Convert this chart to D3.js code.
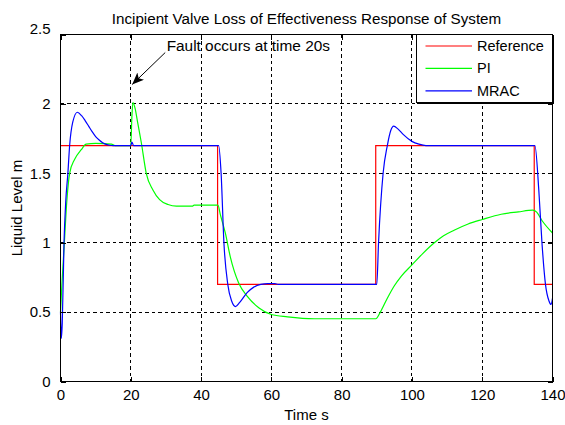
<!DOCTYPE html>
<html>
<head>
<meta charset="utf-8">
<script src="https://cdn.jsdelivr.net/npm/d3@7"></script>
<style>
  body { margin: 0; background: #fff; }
  text { font-family: "Liberation Sans", Arial, sans-serif; fill: #000; }
</style>
</head>
<body>
<svg width="565" height="425"></svg>
<script>
const xTicks = [0, 20, 40, 60, 80, 100, 120, 140]
const yTicks = [0, 0.5, 1, 1.5, 2, 2.5]
const seriesNames = ['Reference', 'PI', 'MRAC']
const seriesColors = ['#ff0000', '#00ff00', '#0000ff']

// reference set point (step signal)
const refTime = [0, 44.7, 44.7, 89.7, 89.7, 134.8, 134.8, 140]
const refLevel = [1.7, 1.7, 0.7, 0.7, 1.7, 1.7, 0.7, 0.7]

// PI controller response
const piTime = [0, 0.4, 1.1, 1.8, 2.6, 4.0, 5.9, 7.3, 10, 14.5, 15.5, 20, 20.3, 20.6, 21.2, 22, 23, 24.4, 26.3, 28.2, 30.6, 33, 37.5, 38, 44.8, 45.5, 46.9, 48.3, 50.7, 53.1, 56.5, 60, 64.6, 72.2, 89.7, 91, 93, 95, 97, 100, 103, 106.2, 109, 112, 116, 120, 125.4, 130.3, 134.4, 135.5, 137, 140]
const piLevel = [0.5, 0.7, 1.0, 1.3, 1.5, 1.6, 1.67, 1.71, 1.715, 1.71, 1.7, 1.7, 1.9, 2.01, 1.97, 1.86, 1.72, 1.5, 1.38, 1.31, 1.275, 1.263, 1.263, 1.27, 1.27, 1.2, 1.07, 0.9, 0.71, 0.615, 0.53, 0.483, 0.466, 0.452, 0.452, 0.5, 0.6, 0.69, 0.76, 0.84, 0.92, 0.996, 1.05, 1.09, 1.135, 1.167, 1.205, 1.222, 1.234, 1.22, 1.16, 1.07]

// MRAC response
const mracTime = [0, 0.25, 0.5, 1.0, 1.5, 2.1, 2.6, 3.5, 4.8, 6, 7, 8, 9, 10, 11, 12, 13, 14, 15, 20, 20.3, 20.8, 45, 45.7, 46.5, 47.6, 48.7, 49.8, 51, 53.1, 55, 57, 59, 61, 62, 90, 90.5, 91.8, 93, 94, 94.8, 96, 97.5, 100, 102, 104, 135, 136.1, 137, 138, 139, 139.6, 140]
const mracLevel = [0.5, 0.31, 0.42, 1.0, 1.3, 1.5, 1.7, 1.87, 1.94, 1.915, 1.88, 1.84, 1.8, 1.765, 1.74, 1.72, 1.708, 1.702, 1.7, 1.7, 1.725, 1.7, 1.7, 1.5, 1.0, 0.7, 0.58, 0.54, 0.57, 0.64, 0.68, 0.7, 0.705, 0.705, 0.7, 0.7, 1.0, 1.5, 1.7, 1.81, 1.84, 1.82, 1.78, 1.73, 1.71, 1.7, 1.7, 1.38, 1.0, 0.7, 0.58, 0.555, 0.6]

const series = [
  { name: seriesNames[0], color: seriesColors[0], pts: refTime.map((t, i) => [t, refLevel[i]]), curve: d3.curveLinear },
  { name: seriesNames[1], color: seriesColors[1], pts: piTime.map((t, i) => [t, piLevel[i]]), curve: d3.curveMonotoneX },
  { name: seriesNames[2], color: seriesColors[2], pts: mracTime.map((t, i) => [t, mracLevel[i]]), curve: d3.curveMonotoneX }
]

const pLeft = 60.5, pRight = 552.5, pTop = 34.5, pBottom = 381.5

const x = d3.scaleLinear().domain([0, 140]).range([pLeft, pRight])
const y = d3.scaleLinear().domain([0, 2.5]).range([pBottom, pTop])

const svg = d3.select('svg')

// grid
const grid = svg.append('g').attr('shape-rendering', 'crispEdges')
grid.selectAll('.gx')
    .data(xTicks.slice(1, -1))
    .enter().append('line')
    .attr('x1', d => x(d)).attr('x2', d => x(d))
    .attr('y1', pTop).attr('y2', pBottom)
    .attr('stroke', '#000').attr('stroke-dasharray', '3.5,3')
grid.selectAll('.gy')
    .data(yTicks.slice(1, -1))
    .enter().append('line')
    .attr('y1', d => y(d)).attr('y2', d => y(d))
    .attr('x1', pLeft).attr('x2', pRight)
    .attr('stroke', '#000').attr('stroke-dasharray', '3.5,3')

// series
const plot = svg.append('g')
series.forEach(s => {
  plot.append('path')
      .datum(s.pts)
      .attr('fill', 'none')
      .attr('stroke', s.color)
      .attr('stroke-width', 1.2)
      .attr('d', d3.line().x(d => x(d[0])).y(d => y(d[1])).curve(s.curve))
})

// axes (inward ticks on all sides)
const axisFont = '15px'
const xAxisG = svg.append('g')
    .attr('transform', `translate(0,${pBottom})`)
    .call(d3.axisBottom(x).tickValues(xTicks).tickSizeInner(-5).tickSizeOuter(0).tickPadding(8))
const yAxisG = svg.append('g')
    .attr('transform', `translate(${pLeft},0)`)
    .call(d3.axisLeft(y).tickValues(yTicks).tickSizeInner(-5).tickSizeOuter(0).tickPadding(10).tickFormat(d3.format('')))
svg.append('g')
    .attr('transform', `translate(0,${pTop})`)
    .call(d3.axisTop(x).tickValues(xTicks).tickSizeInner(-5).tickSizeOuter(0).tickFormat(''))
svg.append('g')
    .attr('transform', `translate(${pRight},0)`)
    .call(d3.axisRight(y).tickValues(yTicks).tickSizeInner(-5).tickSizeOuter(0).tickFormat(''))

svg.selectAll('.domain').remove()
svg.selectAll('.tick line').attr('stroke', '#000').attr('shape-rendering', 'crispEdges')
svg.selectAll('.tick text')
    .style('font-family', '"Liberation Sans", Arial, sans-serif')
    .style('font-size', axisFont)
    .attr('fill', '#000')
// top label sits a little above its tick in the original
yAxisG.selectAll('.tick text').filter(d => d === 2.5).attr('dy', '-0.05em')

svg.append('rect')
    .attr('x', pLeft).attr('y', pTop)
    .attr('width', pRight - pLeft).attr('height', pBottom - pTop)
    .attr('fill', 'none').attr('stroke', '#000')
    .attr('shape-rendering', 'crispEdges')

// titles
svg.append('text')
    .attr('x', (pLeft + pRight) / 2).attr('y', 24)
    .attr('text-anchor', 'middle')
    .style('font-size', '15.2px')
    .text('Incipient Valve Loss of Effectiveness Response of System')
svg.append('text')
    .attr('x', (pLeft + pRight) / 2).attr('y', 420)
    .attr('text-anchor', 'middle')
    .style('font-size', '15px')
    .text('Time s')
svg.append('text')
    .attr('transform', `translate(22,${(pTop + pBottom) / 2}) rotate(-90)`)
    .attr('text-anchor', 'middle')
    .style('font-size', '15px')
    .text('Liquid Level m')

// annotation
svg.append('defs').append('marker')
    .attr('id', 'head')
    .attr('viewBox', '0 0 12 10')
    .attr('refX', 12).attr('refY', 5)
    .attr('markerWidth', 12).attr('markerHeight', 10)
    .attr('markerUnits', 'userSpaceOnUse')
    .attr('orient', 'auto')
    .append('path').attr('d', 'M0,0 L12,5 L0,10 L3,5 Z').attr('fill', '#000')
svg.append('line')
    .attr('x1', x(29.8)).attr('y1', y(2.37))
    .attr('x2', x(20.4)).attr('y2', y(2.14))
    .attr('stroke', '#000').attr('stroke-width', 1)
    .attr('marker-end', 'url(#head)')
svg.append('text')
    .attr('x', x(30.2)).attr('y', 51)
    .style('font-size', '15.4px')
    .text('Fault occurs at time 20s')

// legend
const lg = svg.append('g')
lg.append('rect')
    .attr('x', 416.5).attr('y', pTop)
    .attr('width', pRight - 416.5).attr('height', 68)
    .attr('fill', '#fff').attr('stroke', '#000')
    .attr('shape-rendering', 'crispEdges')
lg.append('path')
    .attr('d', `M417,${pTop + 69}H${pRight + 1}V${pTop}`)
    .attr('fill', 'none').attr('stroke', '#000').attr('stroke-width', 1.5)
    .attr('shape-rendering', 'crispEdges')
series.forEach((s, i) => {
  const ly = 46 + i * 22.4
  lg.append('line')
      .attr('x1', 425.5).attr('x2', 472)
      .attr('y1', ly).attr('y2', ly)
      .attr('stroke', s.color).attr('stroke-width', 1.2)
  lg.append('text')
      .attr('x', 477).attr('y', ly + 5)
      .style('font-size', '14.5px')
      .text(s.name)
})
</script>
</body>
</html>
